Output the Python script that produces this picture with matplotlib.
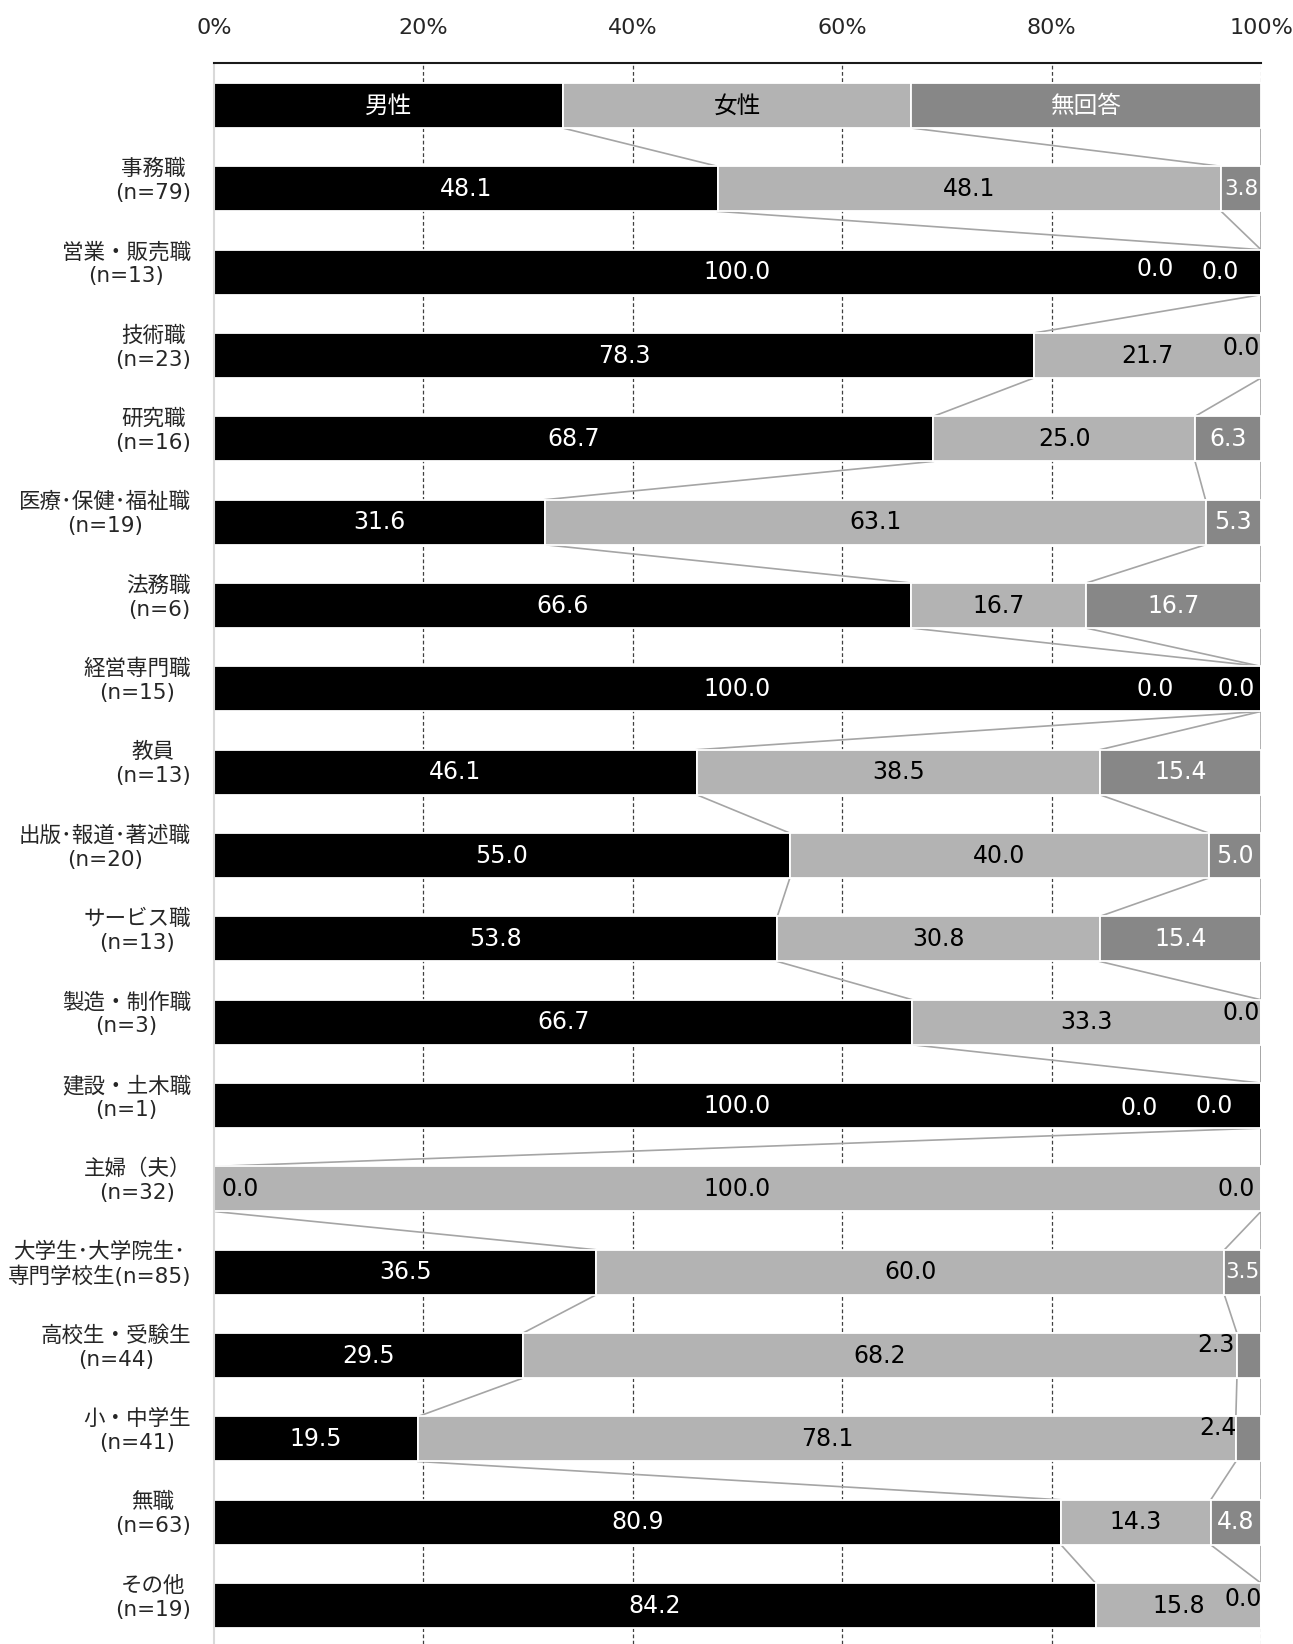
#!/usr/bin/env python3
# -*- coding: utf-8 -*-
"""
職業別 性別構成比の積み上げ横棒グラフ
"""

import matplotlib.pyplot as plt

# 数字は DejaVu、日本語は Noto Sans CJK JP にフォールバック
plt.rcParams['font.family'] = ['DejaVu Sans', 'Noto Sans CJK JP']

# データ
categories = [
    '',
    '事務職\n(n=79)',
    '営業・販売職\n(n=13)',
    '技術職\n(n=23)',
    '研究職\n(n=16)',
    '医療･保健･福祉職\n(n=19)',
    '法務職\n(n=6)',
    '経営専門職\n(n=15)',
    '教員\n(n=13)',
    '出版･報道･著述職\n(n=20)',
    'サービス職\n(n=13)',
    '製造・制作職\n(n=3)',
    '建設・土木職\n(n=1)',
    '主婦（夫）\n(n=32)',
    '大学生･大学院生･\n専門学校生(n=85)',
    '高校生・受験生\n(n=44)',
    '小・中学生\n(n=41)',
    '無職\n(n=63)',
    'その他\n(n=19)',
]
male = [33.3, 48.1, 100.0, 78.3, 68.7, 31.6, 66.6, 100.0, 46.1, 55.0,
        53.8, 66.7, 100.0, 0.0, 36.5, 29.5, 19.5, 80.9, 84.2]
female = [33.3, 48.1, 0.0, 21.7, 25.0, 63.1, 16.7, 0.0, 38.5, 40.0,
          30.8, 33.3, 0.0, 100.0, 60.0, 68.2, 78.1, 14.3, 15.8]
no_answer = [33.4, 3.8, 0.0, 0.0, 6.3, 5.3, 16.7, 0.0, 15.4, 5.0,
             15.4, 0.0, 0.0, 0.0, 3.5, 2.3, 2.4, 4.8, 0.0]
header_labels = ['男性', '女性', '無回答']
ticks = [0, 20, 40, 60, 80, 100]
tick_labels = ['0%', '20%', '40%', '60%', '80%', '100%']

colors = ['#000000', '#b3b3b3', '#878787']
text_colors = ['white', 'black', 'white']

# 0.0 など小さい値のラベル位置 (行, 系列) -> (x[%], 上方向ずらし[px])
label_override = {
    (2, 1): (89.9, 3), (2, 2): (96.1, 0),
    (3, 2): (98.1, 8),
    (7, 1): (89.9, 0), (7, 2): (97.6, 0),
    (11, 2): (98.1, 9),
    (12, 1): (88.4, -2), (12, 2): (95.5, 0),
    (13, 0): (2.5, 0), (13, 2): (97.6, 0),
    (15, 2): (95.7, 11),
    (16, 2): (95.9, 11),
    (18, 2): (98.3, 7),
}


def main():
    fig = plt.figure(figsize=(12.93, 16.44), dpi=100)
    ax = fig.add_axes([214 / 1293, 0.0, (1261 - 214) / 1293, 1 - 63 / 1644])

    n = len(categories)
    ys = list(range(n))
    bar_h = 0.54
    series = [male, female, no_answer]

    # 目盛線
    for t in ticks[1:-1]:
        ax.axvline(t, color='#404040', lw=0.9, ls=(0, (3, 2)), zorder=1)
    ax.axvline(100, color='#bfbfbf', lw=0.9, ls=(0, (3, 2)), zorder=1)

    # 積み上げ棒
    lefts = [0.0] * n
    cum = []
    for k, vals in enumerate(series):
        ax.barh(ys, vals, left=lefts, height=bar_h, color=colors[k],
                edgecolor='white', linewidth=1.3, zorder=2)
        lefts = [l + v for l, v in zip(lefts, vals)]
        cum.append(list(lefts))

    # 区分線
    for k in range(3):
        for i in range(n - 1):
            ax.plot([cum[k][i], cum[k][i + 1]],
                    [ys[i] + bar_h / 2, ys[i + 1] - bar_h / 2],
                    color='#a5a5a5', lw=1.2, zorder=1.5)

    # ラベル
    for i in range(n):
        start = 0.0
        for k, vals in enumerate(series):
            v = vals[i]
            if i == 0:
                ax.text(start + v / 2, ys[i], header_labels[k], ha='center',
                        va='center', color=text_colors[k], fontsize=17,
                        zorder=3)
                start += v
                continue
            x, dy = start + v / 2, 0
            if (i, k) in label_override:
                x, dy = label_override[(i, k)]
            # 背景色で文字色を決める
            bg = 0
            for kk in range(3):
                if x <= cum[kk][i] and series[kk][i] > 0:
                    bg = kk
                    break
            fs = 15.5 if 0 < v < 4 and (i, k) not in label_override else 17
            ax.annotate(f'{v:.1f}', xy=(x, ys[i]), xytext=(0, dy),
                        textcoords='offset pixels', ha='center', va='center',
                        color=text_colors[bg], fontsize=fs, zorder=3)
            start += v

    # カテゴリラベル
    for i in range(1, n):
        ax.annotate(categories[i], xy=(0, ys[i]),
                    xycoords=('axes fraction', 'data'),
                    xytext=(-23, 8), textcoords='offset pixels',
                    ha='right', va='center', multialignment='center',
                    fontsize=15.5, color='#262626', linespacing=1.25)

    ax.set_xlim(0, 100)
    ax.set_ylim(n - 1 + 0.46, -0.51)
    ax.set_yticks([])
    ax.xaxis.tick_top()
    ax.set_xticks(ticks)
    ax.set_xticklabels(tick_labels, fontsize=16, color='#262626')
    ax.tick_params(axis='x', length=0, pad=18)

    for s in ['right', 'bottom']:
        ax.spines[s].set_visible(False)
    ax.spines['top'].set_color('#1a1a1a')
    ax.spines['top'].set_linewidth(1.5)
    ax.spines['left'].set_color('#d9d9d9')
    ax.spines['left'].set_linewidth(1.5)

    fig.savefig('out.png', dpi=100)
    plt.close(fig)


if __name__ == '__main__':
    main()
